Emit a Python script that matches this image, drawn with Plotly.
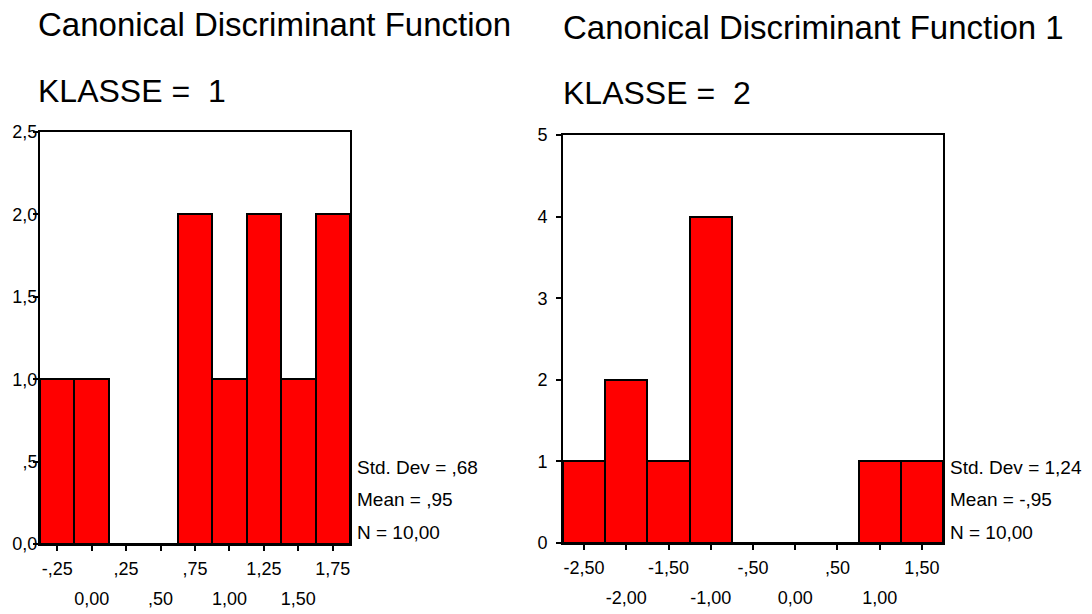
import plotly.graph_objects as go

# ---------------- data ----------------
left_centers = [-0.25, 0.0, 0.25, 0.50, 0.75, 1.00, 1.25, 1.50, 1.75]
left_counts = [1, 1, 0, 0, 2, 1, 2, 1, 2]
left_bin_width = 0.25
left_top_ticks = [-0.25, 0.25, 0.75, 1.25, 1.75]
left_top_text = ["-,25", ",25", ",75", "1,25", "1,75"]
left_bot_ticks = [0.0, 0.50, 1.00, 1.50]
left_bot_text = ["0,00", ",50", "1,00", "1,50"]
left_y_ticks = [0, 0.5, 1.0, 1.5, 2.0, 2.5]
left_y_text = ["0,0", ",5", "1,0", "1,5", "2,0", "2,5"]
left_stats = ["Std. Dev = ,68", "Mean = ,95", "N = 10,00"]

right_centers = [-2.5, -2.0, -1.5, -1.0, -0.5, 0.0, 0.5, 1.0, 1.5]
right_counts = [1, 2, 1, 4, 0, 0, 0, 1, 1]
right_bin_width = 0.5
right_top_ticks = [-2.5, -1.5, -0.5, 0.5, 1.5]
right_top_text = ["-2,50", "-1,50", "-,50", ",50", "1,50"]
right_bot_ticks = [-2.0, -1.0, 0.0, 1.0]
right_bot_text = ["-2,00", "-1,00", "0,00", "1,00"]
right_y_ticks = [0, 1, 2, 3, 4, 5]
right_y_text = ["0", "1", "2", "3", "4", "5"]
right_stats = ["Std. Dev = 1,24", "Mean = -,95", "N = 10,00"]

titles = ["Canonical Discriminant Function", "Canonical Discriminant Function 1"]
subtitles = ["KLASSE =  1", "KLASSE =  2"]

# ---------------- layout helpers ----------------
W, H = 1092, 614
FONT = "Liberation Sans, Arial, Helvetica, sans-serif"


def px_x(p):
    return p / W


def px_y(p):
    return (H - p) / H


fig = go.Figure()

fig.add_trace(go.Bar(
    x=left_centers, y=left_counts, width=left_bin_width,
    marker=dict(color="#FF0000", line=dict(color="black", width=2)),
    xaxis="x", yaxis="y", showlegend=False, hoverinfo="skip",
))
fig.add_trace(go.Bar(
    x=right_centers, y=right_counts, width=right_bin_width,
    marker=dict(color="#FF0000", line=dict(color="black", width=2)),
    xaxis="x2", yaxis="y2", showlegend=False, hoverinfo="skip",
))
# invisible carriers so the second-row label axes get drawn
fig.add_trace(go.Scatter(x=left_bot_ticks, y=[0] * len(left_bot_ticks), mode="markers",
                         marker=dict(opacity=0), xaxis="x3", yaxis="y",
                         showlegend=False, hoverinfo="skip"))
fig.add_trace(go.Scatter(x=right_bot_ticks, y=[0] * len(right_bot_ticks), mode="markers",
                         marker=dict(opacity=0), xaxis="x4", yaxis="y2",
                         showlegend=False, hoverinfo="skip"))

left_xr = [left_centers[0] - left_bin_width / 2, left_centers[-1] + left_bin_width / 2]
right_xr = [right_centers[0] - right_bin_width / 2, right_centers[-1] + right_bin_width / 2]

tickfont = dict(family=FONT, size=18, color="black")
STAND = 2
ROWGAP = 31

common_x = dict(showgrid=False, zeroline=False, showline=True, linecolor="black",
                linewidth=2, mirror=True, ticks="outside", ticklen=5, tickwidth=2,
                tickcolor="black", tickfont=tickfont, ticklabelstandoff=STAND,
                fixedrange=True)
common_y = dict(showgrid=False, zeroline=False, showline=True, linecolor="black",
                linewidth=2, mirror=True, ticks="outside", ticklen=5, tickwidth=2,
                tickcolor="black", tickfont=tickfont, fixedrange=True)
second_row = dict(side="bottom", showgrid=False, zeroline=False, showline=False,
                  ticks="outside", ticklen=5, tickcolor="rgba(0,0,0,0)",
                  tickmode="array", tickfont=tickfont,
                  ticklabelstandoff=STAND + ROWGAP, fixedrange=True)

fig.update_layout(
    width=W, height=H,
    margin=dict(l=0, r=0, t=0, b=0, autoexpand=False),
    paper_bgcolor="white", plot_bgcolor="white",
    bargap=0,
    font=dict(family=FONT, color="black"),
    xaxis=dict(domain=[px_x(40), px_x(350)], range=left_xr, anchor="y",
               tickmode="array", tickvals=left_top_ticks + left_bot_ticks,
               ticktext=left_top_text + [""] * len(left_bot_ticks), **common_x),
    yaxis=dict(domain=[px_y(544), px_y(132)], range=[0, 2.5], anchor="x",
               tickmode="array", tickvals=left_y_ticks, ticktext=left_y_text,
               ticklabelstandoff=-8, **common_y),
    xaxis3=dict(overlaying="x", anchor="y", range=left_xr,
                tickvals=left_bot_ticks, ticktext=left_bot_text, **second_row),
    xaxis2=dict(domain=[px_x(563), px_x(943)], range=right_xr, anchor="y2",
                tickmode="array", tickvals=right_top_ticks + right_bot_ticks,
                ticktext=right_top_text + [""] * len(right_bot_ticks), **common_x),
    yaxis2=dict(domain=[px_y(543), px_y(135)], range=[0, 5], anchor="x2",
                tickmode="array", tickvals=right_y_ticks, ticktext=right_y_text,
                ticklabelstandoff=5, **common_y),
    xaxis4=dict(overlaying="x2", anchor="y2", range=right_xr,
                tickvals=right_bot_ticks, ticktext=right_bot_text, **second_row),
)

annotations = []
title_font = dict(family=FONT, size=33, color="black")
sub_font = dict(family=FONT, size=32, color="black")
for xpix, t, s, ty, sy in [(36, titles[0], subtitles[0], 24, 91),
                           (561, titles[1], subtitles[1], 27, 93)]:
    annotations.append(dict(x=px_x(xpix), y=px_y(ty), xref="paper", yref="paper",
                            text=t, showarrow=False, xanchor="left", yanchor="middle",
                            font=title_font))
    annotations.append(dict(x=px_x(xpix), y=px_y(sy), xref="paper", yref="paper",
                            text=s, showarrow=False, xanchor="left", yanchor="middle",
                            font=sub_font))

stat_font = dict(family=FONT, size=19, color="black")
for xpix, stats in [(355, left_stats), (948, right_stats)]:
    for line, ypix in zip(stats, [467, 499, 532]):
        annotations.append(dict(x=px_x(xpix), y=px_y(ypix), xref="paper", yref="paper",
                                text=line, showarrow=False, xanchor="left",
                                yanchor="middle", font=stat_font))

fig.update_layout(annotations=annotations)

fig.write_html(
    "out.html",
    config={"displayModeBar": False},
    post_script="document.body.style.margin='0';document.body.style.overflow='hidden';",
)
